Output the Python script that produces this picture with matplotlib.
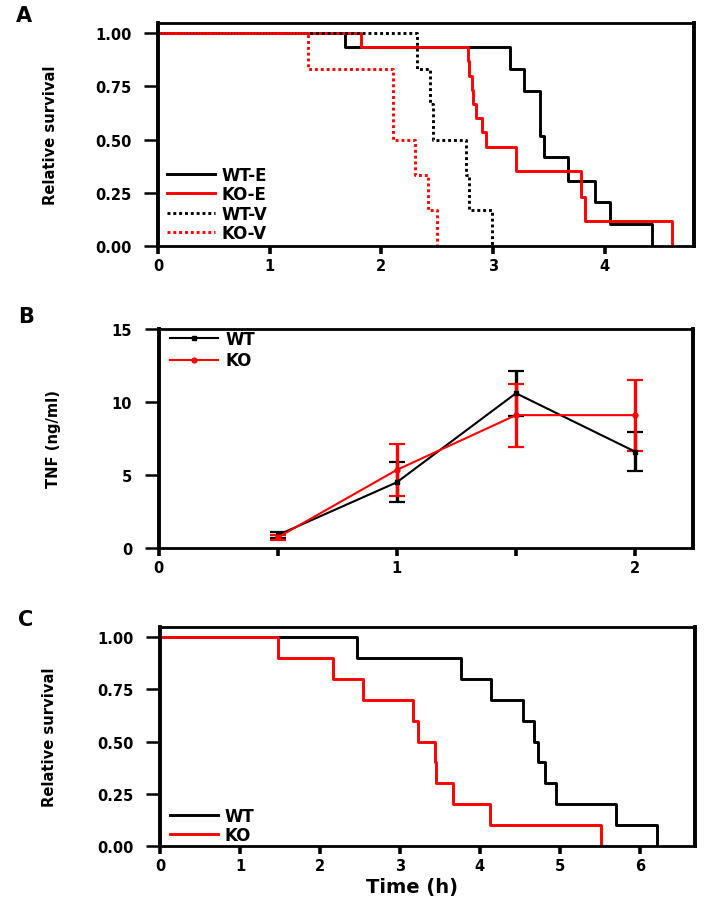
import matplotlib
matplotlib.use("Agg")
import matplotlib.pyplot as plt
from matplotlib.lines import Line2D
from matplotlib import font_manager

# ---------------- Data ----------------
# Panel A: Kaplan-Meier survival
wte_t = [0, 1.674, 3.151, 3.279, 3.420, 3.456, 3.668, 3.912, 4.047, 4.420]
wte_s = [1.0, 0.933, 0.831, 0.729, 0.518, 0.416, 0.307, 0.205, 0.103, 0.0]
koe_t = [0, 1.815, 2.778, 2.787, 2.808, 2.823, 2.847, 2.898, 2.934, 3.202, 3.784, 3.823, 4.604]
koe_s = [1.0, 0.933, 0.867, 0.800, 0.733, 0.667, 0.600, 0.533, 0.467, 0.350, 0.230, 0.118, 0.0]
wtv_t = [0, 2.321, 2.435, 2.459, 2.757, 2.787, 2.987]
wtv_s = [1.0, 0.833, 0.667, 0.500, 0.333, 0.167, 0.0]
kov_t = [0, 1.346, 2.107, 2.301, 2.420, 2.501]
kov_s = [1.0, 0.833, 0.500, 0.333, 0.167, 0.0]

# Panel B: TNF (ng/ml)
tnf_x = [0.5, 1.0, 1.5, 2.0]
tnf_wt = [0.88, 4.5, 10.6, 6.6]
tnf_wt_err = [0.22, 1.37, 1.55, 1.32]
tnf_ko = [0.72, 5.35, 9.1, 9.1]
tnf_ko_err = [0.15, 1.77, 2.16, 2.43]
tnf_xticks = [0, 0.5, 1, 1.5, 2]
tnf_xticklabels = ["0", "", "1", "", "2"]
tnf_yticks = [0, 5, 10, 15]

# Panel C: survival
wt_t = [0, 2.458, 3.769, 4.144, 4.538, 4.676, 4.725, 4.809, 4.946, 5.704, 6.211]
wt_s = [1.0, 0.9, 0.8, 0.7, 0.6, 0.5, 0.4, 0.3, 0.2, 0.1, 0.0]
ko_t = [0, 1.472, 2.166, 2.541, 3.165, 3.227, 3.436, 3.457, 3.664, 4.122, 5.517]
ko_s = [1.0, 0.9, 0.8, 0.7, 0.6, 0.5, 0.4, 0.3, 0.2, 0.1, 0.0]

surv_yticks = [0, 0.25, 0.5, 0.75, 1.0]
surv_yticklabels = ["0.00", "0.25", "0.50", "0.75", "1.00"]

# ---------------- Style ----------------
plt.rcParams['font.family'] = ['DejaVu Sans']
plt.rcParams['font.weight'] = 'bold'
RED = '#ff0000'
W, H = 704, 904
fig = plt.figure(figsize=(W / 100, H / 100), dpi=100)

def ax_at(l, r, t, b):
    return fig.add_axes([l / W, 1 - b / H, (r - l) / W, (b - t) / H])

# pick a narrow font for the rotated axis titles if one is available
names = {f.name for f in font_manager.fontManager.ttflist}
cond = [f for f in font_manager.fontManager.ttflist
        if f.name == 'DejaVu Sans' and 'condensed' in str(f.stretch).lower()
        and f.weight in ('bold', 700)]
if 'Liberation Sans Narrow' in names:
    YLAB_FONT = dict(family=['Liberation Sans Narrow'], weight='bold', size=14.5)
elif cond:
    YLAB_FONT = dict(family=['DejaVu Sans'], stretch='condensed', weight='bold', size=11.8)
else:
    YLAB_FONT = dict(family=['Liberation Sans'], weight='bold', size=11)

def style(ax):
    for s in ['left', 'right']:
        ax.spines[s].set_linewidth(2.8)
    for s in ['top', 'bottom']:
        ax.spines[s].set_linewidth(2.0)
    ax.tick_params(axis='y', direction='out', length=10, width=1.8, pad=9,
                   labelsize=10.5, right=False)
    ax.tick_params(axis='x', direction='out', length=5.5, width=2.6, pad=3.5,
                   labelsize=10.5, top=False)
    for lab in ax.get_xticklabels() + ax.get_yticklabels():
        lab.set_fontweight('bold')

def ylabel(ax, text, xpix, left):
    ax.set_ylabel(text, fontdict=YLAB_FONT, va='center')
    w = ax.get_position().width * W
    ax.yaxis.set_label_coords((xpix - left) / w, 0.5)

LW = 2.1
dot = (0, (1, 1))
LEG = dict(weight='bold', size=12)

# ---------------- Panel A ----------------
axA = ax_at(158, 694, 24, 247)
axA.plot(wte_t, wte_s, drawstyle='steps-post', color='black', lw=LW, label='WT-E')
axA.plot(koe_t, koe_s, drawstyle='steps-post', color=RED, lw=LW, label='KO-E')
axA.plot(wtv_t, wtv_s, drawstyle='steps-post', color='black', lw=LW, ls=dot, label='WT-V')
axA.plot(kov_t, kov_s, drawstyle='steps-post', color=RED, lw=LW, ls=dot, label='KO-V')
axA.set_xlim(0, 4.8)
axA.set_ylim(0, 1.047)
axA.set_xticks([0, 1, 2, 3, 4])
axA.set_yticks(surv_yticks)
axA.set_yticklabels(surv_yticklabels)
style(axA)
ylabel(axA, 'Relative survival', 50, 158)
axA.legend(loc='lower left', bbox_to_anchor=(0.016, 0.018), frameon=False,
           prop=LEG, borderpad=0, labelspacing=0.08,
           handlelength=2.9, handletextpad=0.4, borderaxespad=0)

# ---------------- Panel B ----------------
axB = ax_at(158.5, 693.5, 330, 549)
axB.errorbar(tnf_x, tnf_wt, yerr=tnf_wt_err, color='black', lw=1.5, marker='s',
             ms=3, elinewidth=2.4, capsize=6, capthick=1.6, label='WT')
axB.errorbar(tnf_x, tnf_ko, yerr=tnf_ko_err, color=RED, lw=1.5, marker='o',
             ms=3.5, elinewidth=2.4, capsize=6, capthick=1.6, label='KO')
axB.set_xlim(0, 2.245)
axB.set_ylim(0, 15)
axB.set_xticks(tnf_xticks)
axB.set_xticklabels(tnf_xticklabels)
axB.set_yticks(tnf_yticks)
style(axB)
ylabel(axB, 'TNF (ng/ml)', 53, 158.5)
hB = [Line2D([], [], color='black', lw=1.5, marker='s', ms=3),
      Line2D([], [], color=RED, lw=1.5, marker='o', ms=3.5)]
axB.legend(hB, ['WT', 'KO'], loc='upper left', bbox_to_anchor=(0.021, 0.995),
           frameon=False, prop=LEG, borderpad=0,
           labelspacing=0.2, handlelength=2.9, handletextpad=0.45, borderaxespad=0)

# ---------------- Panel C ----------------
axC = ax_at(160, 695, 628, 847)
axC.plot(wt_t, wt_s, drawstyle='steps-post', color='black', lw=LW, label='WT')
axC.plot(ko_t, ko_s, drawstyle='steps-post', color=RED, lw=LW, label='KO')
axC.set_xlim(0, 6.69)
axC.set_ylim(0, 1.049)
axC.set_xticks([0, 1, 2, 3, 4, 5, 6])
axC.set_yticks(surv_yticks)
axC.set_yticklabels(surv_yticklabels)
style(axC)
ylabel(axC, 'Relative survival', 50, 160)
axC.set_xlabel('Time (h)', fontsize=14, fontweight='bold', va='center')
axC.xaxis.set_label_coords((411.5 - 160) / 535, (847 - 887.5) / 219)
axC.legend(loc='lower left', bbox_to_anchor=(0.018, 0.01), frameon=False,
           prop=LEG, borderpad=0, labelspacing=0.05,
           handlelength=2.9, handletextpad=0.4, borderaxespad=0)

# ---------------- Panel letters ----------------
for letter, (x, y) in zip(['A', 'B', 'C'], [(24, 16.5), (26, 317), (26, 620)]):
    fig.text(x / W, 1 - y / H, letter, fontsize=15, fontweight='bold',
             ha='center', va='center')

fig.savefig('out.png', dpi=100)
